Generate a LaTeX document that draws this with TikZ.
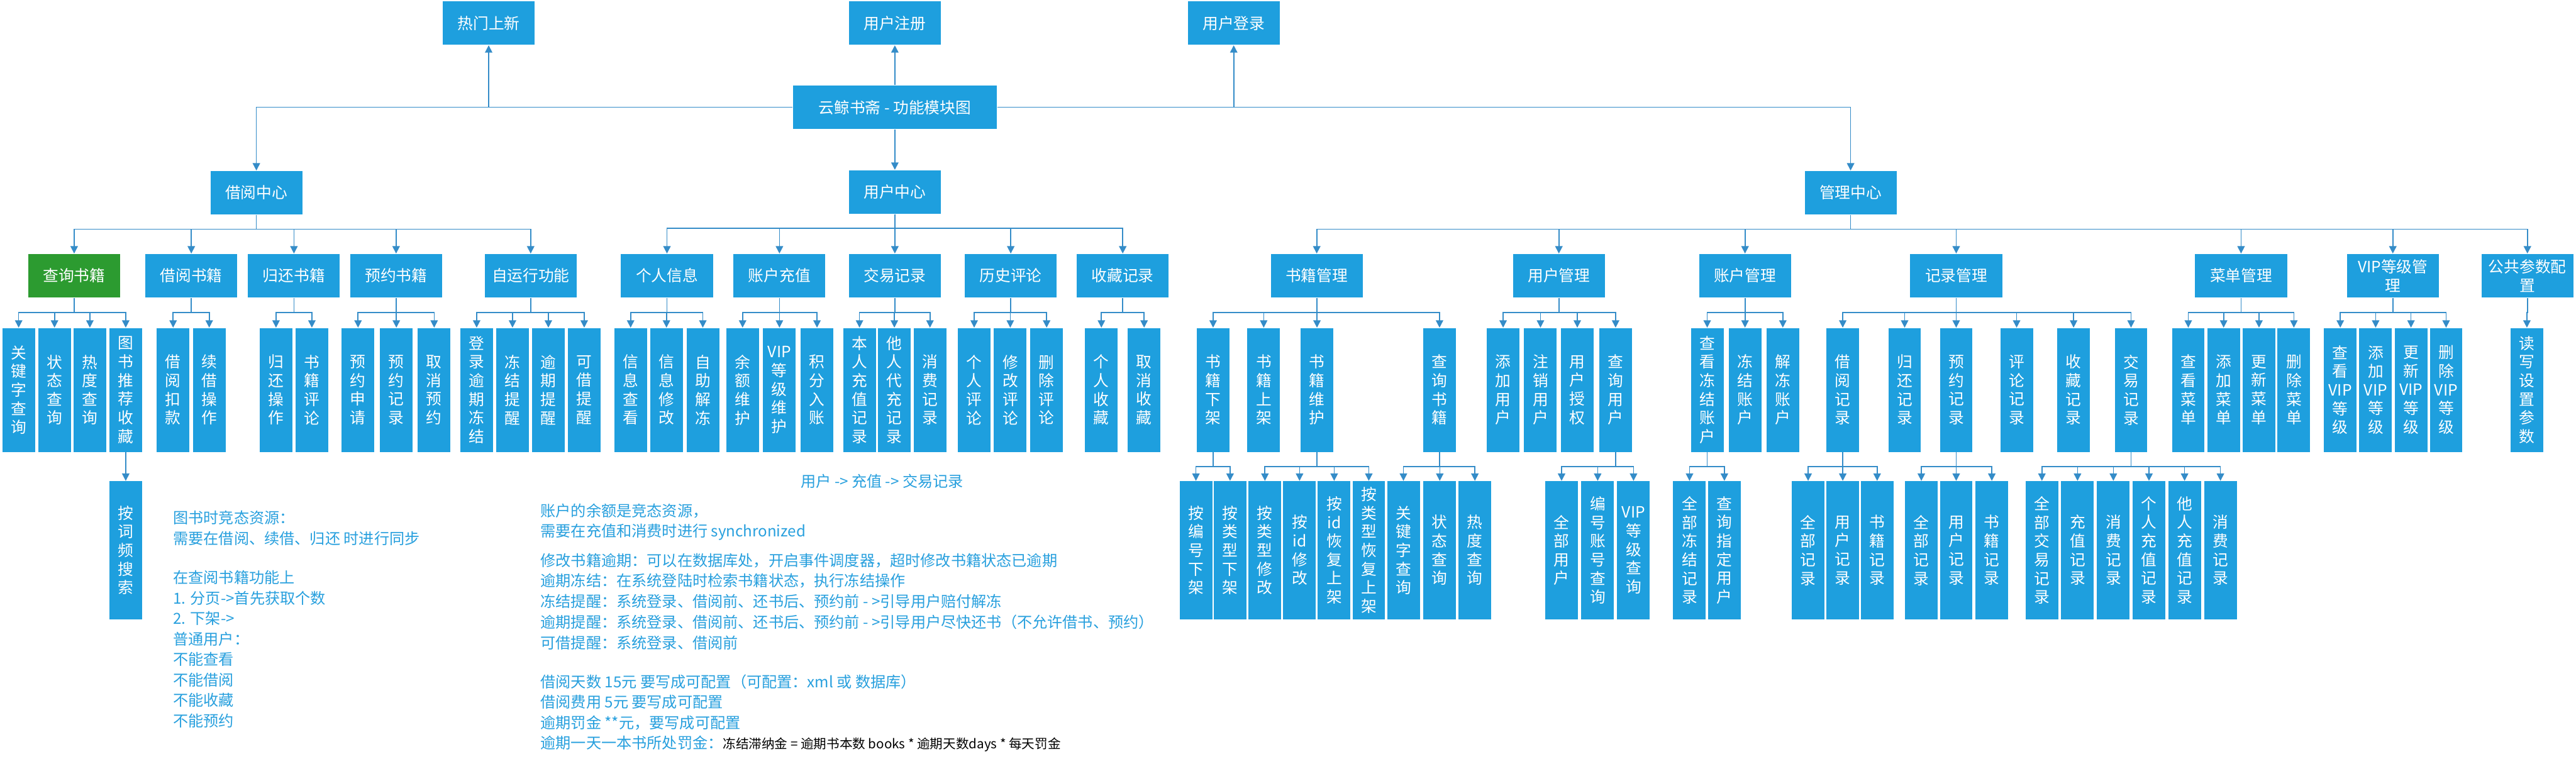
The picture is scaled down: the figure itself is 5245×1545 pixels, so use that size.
\documentclass[tikz,border=0pt]{standalone}
\usepackage{fontspec}
\setmainfont{Noto Sans CJK SC}
\usetikzlibrary{arrows.meta}
\definecolor{boxblue}{RGB}{30,159,222}
\definecolor{boxgreen}{RGB}{44,155,48}
\definecolor{linecol}{RGB}{52,140,200}
\definecolor{notecol}{RGB}{40,160,222}
\newcommand\kids[3]{\foreach \kid in {#3}{\draw[conn] (#1.south) -- ++(0,#2) -| (\kid.north);}}
\begin{document}
\begin{tikzpicture}[x=0.01cm,y=-0.01cm,
  box/.style={fill=boxblue,text=white,inner sep=0pt,align=center,font=\fontsize{9}{10.8}\selectfont},
  lvtwo/.style={box,minimum width=1.87cm,minimum height=0.89cm},
  leaf/.style={box,minimum width=0.665cm,minimum height=2.52cm},
  leafiv/.style={box,minimum width=0.665cm,minimum height=2.81cm},
  conn/.style={draw=linecol,line width=0.6pt,-{Triangle[length=0.15cm,width=0.15cm]}},
  note/.style={anchor=west,inner sep=0pt,text=notecol,font=\fontsize{8.8}{11}\selectfont}]
\fill[white] (0,0) rectangle (5245,1545);
\useasboundingbox (0,0) rectangle (5245,1545);

% top
\node[lvtwo] (hot) at (995,47) {热门上新};
\node[lvtwo] (reg) at (1822,47) {用户注册};
\node[lvtwo] (login) at (2512,47) {用户登录};
\node[box,minimum width=4.15cm,minimum height=0.89cm] (title) at (1822,218.5) {云鲸书斋 - 功能模块图};
\node[lvtwo] (bc) at (522,392.5) {借阅中心};
\node[lvtwo] (uc) at (1822,391) {用户中心};
\node[lvtwo] (mc) at (3768,392.5) {管理中心};
\draw[conn] (title.west) -| (hot.south);
\draw[conn] (title.west) -| (bc.north);
\draw[conn] (title.north) -- (reg.south);
\draw[conn] (title.south) -- (uc.north);
\draw[conn] (title.east) -| (login.south);
\draw[conn] (title.east) -| (mc.north);

% level 2
\node[lvtwo,fill=boxgreen] (b1) at (151,561.5) {查询书籍};
\node[lvtwo] (b2) at (389.5,561.5) {借阅书籍};
\node[lvtwo] (b3) at (598.5,561.5) {归还书籍};
\node[lvtwo] (b4) at (806.5,561.5) {预约书籍};
\node[lvtwo] (b5) at (1080.5,561.5) {自运行功能};
\node[lvtwo] (u1) at (1358,561.5) {个人信息};
\node[lvtwo] (u2) at (1587,561.5) {账户充值};
\node[lvtwo] (u3) at (1822,561.5) {交易记录};
\node[lvtwo] (u4) at (2058,561.5) {历史评论};
\node[lvtwo] (u5) at (2286,561.5) {收藏记录};
\node[lvtwo] (m1) at (2681,561.5) {书籍管理};
\node[lvtwo] (m2) at (3174,561.5) {用户管理};
\node[lvtwo] (m3) at (3553,561.5) {账户管理};
\node[lvtwo] (m4) at (3983,561.5) {记录管理};
\node[lvtwo] (m5) at (4563,561.5) {菜单管理};
\node[lvtwo] (m6) at (4872,561.5) {VIP等级管\\理};
\node[lvtwo] (m7) at (5146,561.5) {公共参数配\\置};
\kids{bc}{29}{b1,b2,b3,b4,b5}
\kids{uc}{29}{u1,u2,u3,u4,u5}
\kids{mc}{29}{m1,m2,m3,m4,m5,m6,m7}

% leaves borrow
\node[leaf] (b1a) at (38,794) {关\\键\\字\\查\\询};
\node[leaf] (b1b) at (111,794) {状\\态\\查\\询};
\node[leaf] (b1c) at (183,794) {热\\度\\查\\询};
\node[leaf] (b1d) at (256,794) {图\\书\\推\\荐\\收\\藏};
\node[leaf] (b2a) at (352.5,794) {借\\阅\\扣\\款};
\node[leaf] (b2b) at (426,794) {续\\借\\操\\作};
\node[leaf] (b3a) at (562,794) {归\\还\\操\\作};
\node[leaf] (b3b) at (635,794) {书\\籍\\评\\论};
\node[leaf] (b4a) at (729,794) {预\\约\\申\\请};
\node[leaf] (b4b) at (807,794) {预\\约\\记\\录};
\node[leaf] (b4c) at (884,794) {取\\消\\预\\约};
\node[leaf] (b5a) at (970.5,794) {登\\录\\逾\\期\\冻\\结};
\node[leaf] (b5b) at (1043.5,794) {冻\\结\\提\\醒};
\node[leaf] (b5c) at (1116.5,794) {逾\\期\\提\\醒};
\node[leaf] (b5d) at (1189.5,794) {可\\借\\提\\醒};
\node[leafiv] (b1da) at (256,1120.5) {按\\词\\频\\搜\\索};
\kids{b1}{30}{b1a,b1b,b1c,b1d}
\kids{b2}{30}{b2a,b2b}
\kids{b3}{30}{b3a,b3b}
\kids{b4}{30}{b4a,b4b,b4c}
\kids{b5}{30}{b5a,b5b,b5c,b5d}
\draw[conn] (b1d.south) -- (b1da.north);

% leaves user
\node[leaf] (u1a) at (1284,794) {信\\息\\查\\看};
\node[leaf] (u1b) at (1357,794) {信\\息\\修\\改};
\node[leaf] (u1c) at (1431,794) {自\\助\\解\\冻};
\node[leaf] (u2a) at (1512,794) {余\\额\\维\\护};
\node[leaf] (u2b) at (1587,794) {VIP\\等\\级\\维\\护};
\node[leaf] (u2c) at (1663.5,794) {积\\分\\入\\账};
\node[leaf] (u3a) at (1750,794) {本\\人\\充\\值\\记\\录};
\node[leaf] (u3b) at (1821,794) {他\\人\\代\\充\\记\\录};
\node[leaf] (u3c) at (1893.5,794) {消\\费\\记\\录};
\node[leaf] (u4a) at (1983.5,794) {个\\人\\评\\论};
\node[leaf] (u4b) at (2057,794) {修\\改\\评\\论};
\node[leaf] (u4c) at (2131,794) {删\\除\\评\\论};
\node[leaf] (u5a) at (2242.5,794) {个\\人\\收\\藏};
\node[leaf] (u5b) at (2329.5,794) {取\\消\\收\\藏};
\kids{u1}{30}{u1a,u1b,u1c}
\kids{u2}{30}{u2a,u2b,u2c}
\kids{u3}{30}{u3a,u3b,u3c}
\kids{u4}{30}{u4a,u4b,u4c}
\kids{u5}{30}{u5a,u5b}

% leaves management
\node[leaf] (m1a) at (2470,794) {书\\籍\\下\\架};
\node[leaf] (m1b) at (2573,794) {书\\籍\\上\\架};
\node[leaf] (m1c) at (2681.5,794) {书\\籍\\维\\护};
\node[leaf] (m1d) at (2931,794) {查\\询\\书\\籍};
\node[leaf] (m2a) at (3060.5,794) {添\\加\\用\\户};
\node[leaf] (m2b) at (3136.5,794) {注\\销\\用\\户};
\node[leaf] (m2c) at (3211.5,794) {用\\户\\授\\权};
\node[leaf] (m2d) at (3289.5,794) {查\\询\\用\\户};
\node[leaf] (m3a) at (3476,794) {查\\看\\冻\\结\\账\\户};
\node[leaf] (m3b) at (3553,794) {冻\\结\\账\\户};
\node[leaf] (m3c) at (3630,794) {解\\冻\\账\\户};
\node[leaf] (m4a) at (3752,794) {借\\阅\\记\\录};
\node[leaf] (m4b) at (3878,794) {归\\还\\记\\录};
\node[leaf] (m4c) at (3983,794) {预\\约\\记\\录};
\node[leaf] (m4d) at (4106,794) {评\\论\\记\\录};
\node[leaf] (m4e) at (4222,794) {收\\藏\\记\\录};
\node[leaf] (m4f) at (4339,794) {交\\易\\记\\录};
\node[leaf] (m5a) at (4455.5,794) {查\\看\\菜\\单};
\node[leaf] (m5b) at (4527.5,794) {添\\加\\菜\\单};
\node[leaf] (m5c) at (4599.5,794) {更\\新\\菜\\单};
\node[leaf] (m5d) at (4670.5,794) {删\\除\\菜\\单};
\node[leaf] (m6a) at (4765,794) {查\\看\\VIP\\等\\级};
\node[leaf] (m6b) at (4837,794) {添\\加\\VIP\\等\\级};
\node[leaf] (m6c) at (4909,794) {更\\新\\VIP\\等\\级};
\node[leaf] (m6d) at (4980.5,794) {删\\除\\VIP\\等\\级};
\node[leaf] (m7a) at (5145,794) {读\\写\\设\\置\\参\\数};
\kids{m1}{30}{m1a,m1b,m1c,m1d}
\kids{m2}{30}{m2a,m2b,m2c,m2d}
\kids{m3}{30}{m3a,m3b,m3c}
\kids{m4}{30}{m4a,m4b,m4c,m4d,m4e,m4f}
\kids{m5}{30}{m5a,m5b,m5c,m5d}
\kids{m6}{30}{m6a,m6b,m6c,m6d}
\kids{m7}{30}{m7a}

% level 4 management
\node[leafiv] (p1) at (2435,1120.5) {按\\编\\号\\下\\架};
\node[leafiv] (p2) at (2504.5,1120.5) {按\\类\\型\\下\\架};
\node[leafiv] (p3) at (2575.5,1120.5) {按\\类\\型\\修\\改};
\node[leafiv] (p4) at (2646,1120.5) {按\\id\\修\\改};
\node[leafiv] (p5) at (2716.5,1120.5) {按\\id\\恢\\复\\上\\架};
\node[leafiv] (p6) at (2787,1120.5) {按\\类\\型\\恢\\复\\上\\架};
\node[leafiv] (p7) at (2857.5,1120.5) {关\\键\\字\\查\\询};
\node[leafiv] (p8) at (2931.5,1120.5) {状\\态\\查\\询};
\node[leafiv] (p9) at (3003,1120.5) {热\\度\\查\\询};
\node[leafiv] (q1) at (3179.5,1120.5) {全\\部\\用\\户};
\node[leafiv] (q2) at (3253,1120.5) {编\\号\\账\\号\\查\\询};
\node[leafiv] (q3) at (3326,1120.5) {VIP\\等\\级\\查\\询};
\node[leafiv] (r1) at (3440,1120.5) {全\\部\\冻\\结\\记\\录};
\node[leafiv] (r2) at (3511,1120.5) {查\\询\\指\\定\\用\\户};
\node[leafiv] (s1) at (3681.5,1120.5) {全\\部\\记\\录};
\node[leafiv] (s2) at (3752,1120.5) {用\\户\\记\\录};
\node[leafiv] (s3) at (3822,1120.5) {书\\籍\\记\\录};
\node[leafiv] (t1) at (3912,1120.5) {全\\部\\记\\录};
\node[leafiv] (t2) at (3983,1120.5) {用\\户\\记\\录};
\node[leafiv] (t3) at (4055.5,1120.5) {书\\籍\\记\\录};
\node[leafiv] (v1) at (4157.5,1120.5) {全\\部\\交\\易\\记\\录};
\node[leafiv] (v2) at (4230,1120.5) {充\\值\\记\\录};
\node[leafiv] (v3) at (4303,1120.5) {消\\费\\记\\录};
\node[leafiv] (v4) at (4375.5,1120.5) {个\\人\\充\\值\\记\\录};
\node[leafiv] (v5) at (4448,1120.5) {他\\人\\充\\值\\记\\录};
\node[leafiv] (v6) at (4521,1120.5) {消\\费\\记\\录};
\kids{m1a}{29}{p1,p2}
\kids{m1c}{29}{p3,p4,p5,p6}
\kids{m1d}{29}{p7,p8,p9}
\kids{m2d}{29}{q1,q2,q3}
\kids{m3a}{29}{r1,r2}
\kids{m4a}{29}{s1,s2,s3}
\kids{m4c}{29}{t1,t2,t3}
\kids{m4f}{29}{v1,v2,v3,v4,v5,v6}

% notes
\node[note,anchor=center] (flow) at (1796,980) {用户 -> 充值 -> 交易记录};
\node[note] (a1) at (352,1054) {图书时竞态资源：};
\node[note] (a2) at (352,1096) {需要在借阅、续借、归还 时进行同步};
\node[note] (a3) at (352,1176) {在查阅书籍功能上};
\node[note] (a4) at (352,1218) {1. 分页->首先获取个数};
\node[note] (a5) at (352,1259) {2. 下架->};
\node[note] (a6) at (352,1301) {普通用户：};
\node[note] (a7) at (352,1343) {不能查看};
\node[note] (a8) at (352,1385) {不能借阅};
\node[note] (a9) at (352,1426) {不能收藏};
\node[note] (a10) at (352,1468) {不能预约};
\node[note] (c1) at (1100,1041) {账户的余额是竞态资源，};
\node[note] (c2) at (1100,1083) {需要在充值和消费时进行 synchronized};
\node[note] (c3) at (1100,1142) {修改书籍逾期：可以在数据库处，开启事件调度器，超时修改书籍状态已逾期};
\node[note] (c4) at (1100,1183) {逾期冻结：在系统登陆时检索书籍状态，执行冻结操作};
\node[note] (c5) at (1100,1225) {冻结提醒：系统登录、借阅前、还书后、预约前 - >引导用户赔付解冻};
\node[note] (c6) at (1100,1267) {逾期提醒：系统登录、借阅前、还书后、预约前 - >引导用户尽快还书（不允许借书、预约）};
\node[note] (c7) at (1100,1309) {可借提醒：系统登录、借阅前};
\node[note] (c8) at (1100,1388) {借阅天数 15元 要写成可配置（可配置：xml 或 数据库）};
\node[note] (c9) at (1100,1430) {借阅费用 5元 要写成可配置};
\node[note] (c10) at (1100,1472) {逾期罚金 **元，要写成可配置};
\node[note] (c11) at (1100,1514) {逾期一天一本书所处罚金：{\color{black}\fontsize{7.5}{9}\selectfont 冻结滞纳金 = 逾期书本数 books * 逾期天数days * 每天罚金}};
\end{tikzpicture}
\end{document}
